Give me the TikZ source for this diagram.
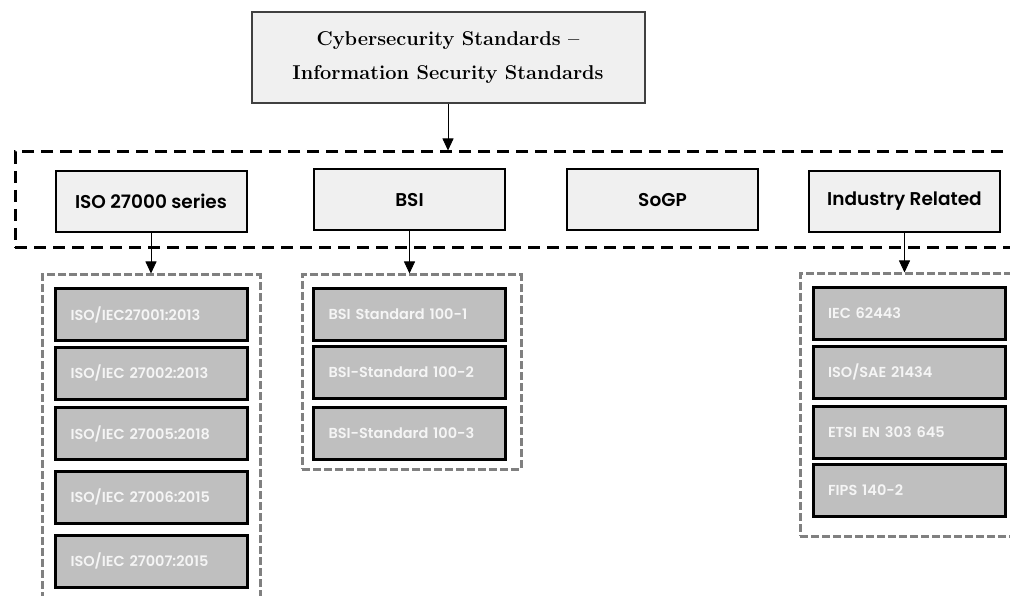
\documentclass[tikz,border=0pt]{standalone}
\usepackage{fontspec}
\setsansfont{Poppins}[BoldFont={Poppins SemiBold}]
\usetikzlibrary{arrows.meta}

\begin{document}
\begin{tikzpicture}[x=1pt, y=-1pt,
    topbox/.style={draw=black!75, line width=2pt, fill=black!6, minimum width=393pt, minimum height=91pt,
                   align=center, font=\bfseries\fontsize{20}{34}\selectfont},
    catbox/.style={draw=black, line width=2pt, fill=black!6, minimum width=191pt, minimum height=61pt,
                   font=\sffamily\bfseries\fontsize{18.5}{20}\selectfont},
    itembox/.style={draw=black, line width=3pt, fill=black!25, text=black!4, minimum height=52pt,
                    text width=162pt, inner xsep=15pt, align=left, font=\sffamily\bfseries\fontsize{14.5}{17}\selectfont},
    band/.style={draw=black, line width=3pt, dash pattern=on 12pt off 7pt},
    group/.style={draw=black!50, line width=3pt, dash pattern=on 8pt off 3pt},
    link/.style={-{Triangle[width=11pt,length=12pt]}, line width=0.8pt}
  ]
  \clip (0,0) rectangle (1010,596);

  %%% top node
  \node[topbox] (title) at (448,58) {Cybersecurity Standards --\\Information Security Standards};

  %%% dashed band and the four categories
  \node[band, minimum width=1035pt, minimum height=96pt] (band) at (532.5,200) {};
  \node[catbox] (iso)  at (151,201.5)   {ISO 27000 series};
  \node[catbox] (bsi)  at (409.5,200)   {BSI};
  \node[catbox] (sogp) at (662.5,200)   {SoGP};
  \node[catbox] (ind)  at (904.5,201.5) {Industry Related};

  %%% gray dashed groups
  \node[group, minimum width=218pt, minimum height=380pt] (isogrp) at (151,465) {};
  \node[group, minimum width=219pt, minimum height=194pt] (bsigrp) at (411.5,372) {};
  \node[group, minimum width=250pt, minimum height=262pt] (indgrp) at (925,405) {};

  %%% standards in each group
  \foreach \i/\y/\t in {1/314.5/{ISO/IEC27001:2013}, 2/373/{ISO/IEC 27002:2013}, 3/433.5/{ISO/IEC 27005:2018},
                        4/497/{ISO/IEC 27006:2015}, 5/561/{ISO/IEC 27007:2015}}{
    \node[itembox] (iso\i) at (151.5,\y) {\t};
  }
  \foreach \i/\y/\t in {1/314.5/BSI Standard 100-1, 2/372.5/BSI-Standard 100-2, 3/433/BSI-Standard 100-3}{
    \node[itembox] (bsi\i) at (409.5,\y) {\t};
  }
  \foreach \i/\y/\t in {1/313.5/IEC 62443, 2/372/{ISO/SAE 21434}, 3/432/ETSI EN 303 645, 4/490.5/FIPS 140-2}{
    \node[itembox] (ind\i) at (909,\y) {\t};
  }

  %%% arrows
  \draw[link] (title.south) -- (title.south |- band.north);
  \draw[link] (iso.south) -- (iso.south |- isogrp.north);
  \draw[link] (bsi.south) -- (bsi.south |- bsigrp.north);
  \draw[link] (ind.south) -- (ind.south |- indgrp.north);
\end{tikzpicture}
\end{document}
